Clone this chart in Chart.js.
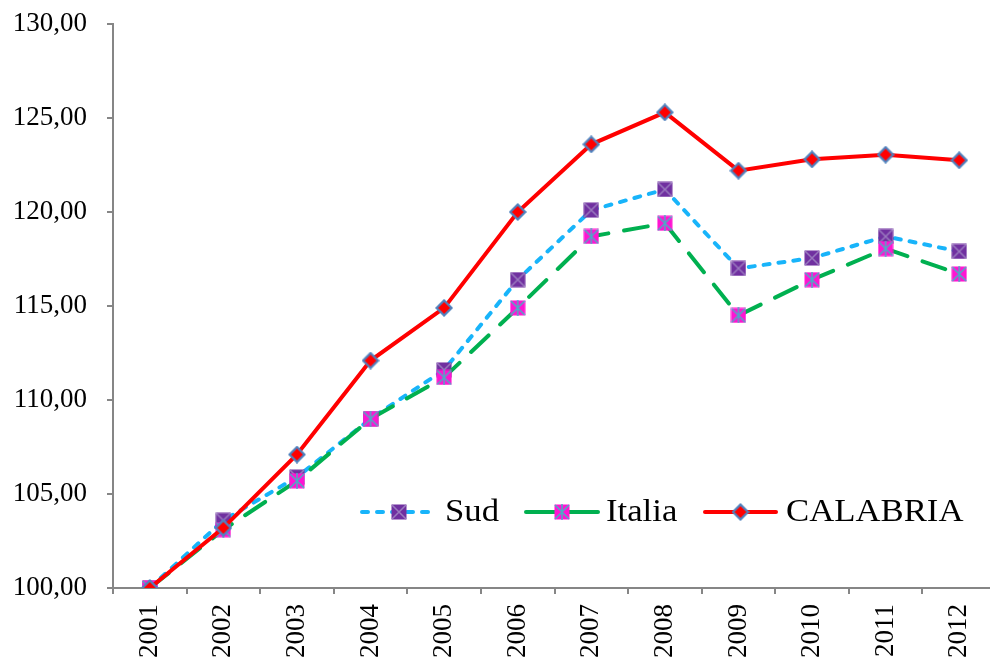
<!DOCTYPE html>
<html>
<head>
<meta charset="utf-8">
<script src="https://cdn.jsdelivr.net/npm/chart.js@4"></script>
<style>
  body { margin: 0; background: #fff; overflow: hidden; }
  #wrap { width: 1010px; height: 664px; }
</style>
</head>
<body>
<div id="wrap"><canvas id="mychart" width="1010" height="664"></canvas></div>
<script>
const years = ['2001','2002','2003','2004','2005','2006','2007','2008','2009','2010','2011','2012'];
const sud = [100, 103.6, 105.9, 109.0, 111.6, 116.4, 120.1, 121.2, 117.0, 117.55, 118.7, 117.9];
const italia = [100, 103.1, 105.7, 109.0, 111.2, 114.9, 118.7, 119.4, 114.5, 116.4, 118.05, 116.7];
const calabria = [100, 103.2, 107.1, 112.1, 114.9, 120.0, 123.6, 125.3, 122.2, 122.8, 123.05, 122.75];
const yTicks = [100, 105, 110, 115, 120, 125, 130];

// marker pictures
function squareMarker(fill, crossCol, star) {
  const c = document.createElement('canvas');
  c.width = 16; c.height = 16;
  const g = c.getContext('2d');
  g.fillStyle = fill;
  g.fillRect(0.5, 0.5, 15, 15);
  g.strokeStyle = crossCol;
  g.lineWidth = 1.5;
  g.beginPath();
  g.moveTo(1, 1); g.lineTo(15, 15);
  g.moveTo(15, 1); g.lineTo(1, 15);
  if (star) { g.moveTo(8, 0); g.lineTo(8, 16); }
  g.stroke();
  return c;
}
function diamondMarker() {
  const c = document.createElement('canvas');
  c.width = 18; c.height = 18;
  const g = c.getContext('2d');
  g.beginPath();
  g.moveTo(9, 1.5); g.lineTo(16.5, 9); g.lineTo(9, 16.5); g.lineTo(1.5, 9); g.closePath();
  g.fillStyle = '#FF0000';
  g.fill();
  g.strokeStyle = '#4F81BD';
  g.lineWidth = 2.2;
  g.stroke();
  return c;
}
const sudMark = squareMarker('#7030A0', '#9A7BBF', false);
const itaMark = squareMarker('#FF14D2', '#4BACC6', true);
const calMark = diamondMarker();

// legend drawn inside the plot, Excel style (line + marker)
const legendItems = [
  { label: 'Sud', color: '#18B4FA', dash: [6, 9], mark: sudMark, x1: 362, x2: 436, tx: 445 },
  { label: 'Italia', color: '#00B050', dash: [], mark: itaMark, x1: 526, x2: 598, tx: 606 },
  { label: 'CALABRIA', color: '#FF0000', dash: [], mark: calMark, x1: 705, x2: 776, tx: 786 }
];
const excelLegend = {
  id: 'excelLegend',
  afterDatasetsDraw(chart) {
    const ctx = chart.ctx;
    const y = 512;
    ctx.save();
    legendItems.forEach(it => {
      ctx.strokeStyle = it.color;
      ctx.lineWidth = 4;
      ctx.lineCap = 'round';
      ctx.setLineDash(it.dash);
      ctx.beginPath();
      ctx.moveTo(it.x1, y);
      ctx.lineTo(it.x2, y);
      ctx.stroke();
      ctx.setLineDash([]);
      ctx.drawImage(it.mark, (it.x1 + it.x2 - it.mark.width) / 2, y - it.mark.height / 2);
      ctx.save();
      ctx.translate(it.tx, y + 1);
      ctx.scale(1.12, 1);
      ctx.fillStyle = '#000';
      ctx.font = '31px "Liberation Serif"';
      ctx.textBaseline = 'middle';
      ctx.fillText(it.label, 0, 0);
      ctx.restore();
    });
    ctx.restore();
  }
};

const axisCol = '#868686';
const chart = new Chart(document.getElementById('mychart').getContext('2d'), {
  type: 'line',
  data: {
    labels: years,
    datasets: [
      {
        label: 'Sud',
        data: sud,
        borderColor: '#18B4FA',
        borderWidth: 4,
        borderDash: [6, 9],
        borderCapStyle: 'round',
        pointStyle: sudMark,
        order: 3
      },
      {
        label: 'Italia',
        data: italia,
        borderColor: '#00B050',
        borderWidth: 4,
        borderDash: [24, 16],
        borderCapStyle: 'round',
        pointStyle: itaMark,
        order: 2
      },
      {
        label: 'CALABRIA',
        data: calabria,
        borderColor: '#FF0000',
        borderWidth: 4,
        pointStyle: calMark,
        order: 1
      }
    ]
  },
  options: {
    responsive: false,
    animation: false,
    layout: { padding: { top: 24, right: 14, left: 0, bottom: 0 } },
    plugins: { legend: { display: false }, tooltip: { enabled: false } },
    scales: {
      x: {
        offset: true,
        grid: { display: true, offset: true, drawOnChartArea: false, color: axisCol, lineWidth: 2, tickLength: 6 },
        border: { color: axisCol, width: 2 },
        ticks: {
          color: '#000',
          font: { family: 'Liberation Serif', size: 27 },
          minRotation: 90,
          maxRotation: 90,
          padding: 10
        },
        afterFit(scale) { scale.height = 76; scale.paddingLeft = 0; scale.paddingRight = 0; }
      },
      y: {
        min: 100,
        max: 130,
        afterBuildTicks(scale) { scale.ticks = yTicks.map(v => ({ value: v })); },
        grid: { display: true, drawOnChartArea: false, color: axisCol, lineWidth: 2, tickLength: 6 },
        border: { color: axisCol, width: 2 },
        ticks: {
          color: '#000',
          font: { family: 'Liberation Serif', size: 27 },
          padding: 20,
          callback: v => v.toFixed(2).replace('.', ',')
        },
        afterFit(scale) { scale.width = 113; scale.paddingTop = 0; scale.paddingBottom = 0; }
      }
    }
  },
  plugins: [excelLegend]
});
</script>
</body>
</html>
